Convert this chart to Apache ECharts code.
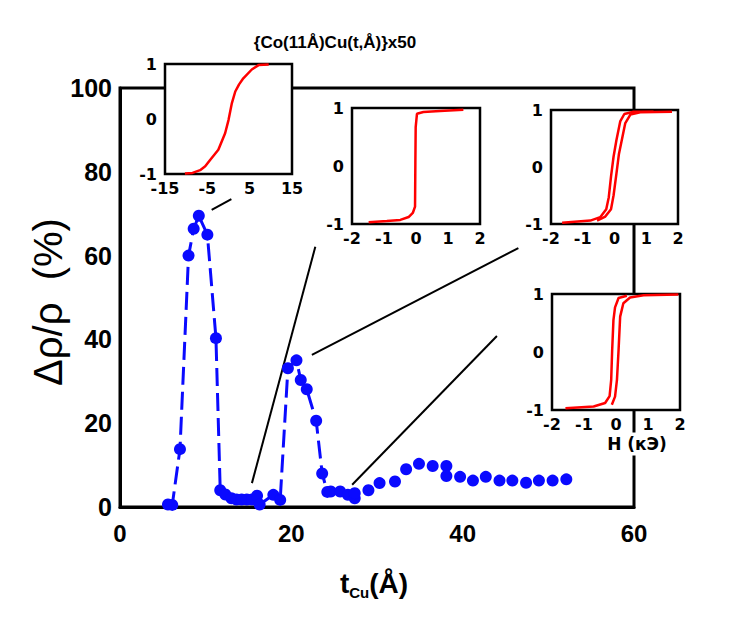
<!DOCTYPE html>
<html>
<head>
<meta charset="utf-8">
<script src="https://cdn.jsdelivr.net/npm/echarts@6.0.0/dist/echarts.min.js"></script>
<style>
  html, body { margin: 0; padding: 0; background: #fff; }
  #chart { width: 750px; height: 622px; }
</style>
</head>
<body>
<div id="chart"></div>
<script>
// main curve, dashed part (t in A, MR in %)
var tCu  = [5.6, 6.1, 7.0, 8.0, 8.6, 9.2, 10.2, 11.2, 11.7, 12.3, 13.0, 13.6, 14.2, 14.8, 15.4, 16.0, 16.3, 17.9, 18.7, 19.6, 20.6, 21.1, 21.8, 22.9, 23.6, 24.2];
var dRho = [0.6, 0.5, 13.8, 60.0, 66.4, 69.5, 65.0, 40.3, 4.0, 3.0, 2.1, 1.8, 1.8, 1.8, 1.8, 2.7, 0.6, 2.9, 1.7, 33.1, 35.0, 30.3, 28.1, 20.6, 8.0, 3.6];
// points after the second peak, no line
var tCuTail  = [24.6, 25.7, 26.6, 27.4, 27.4, 29.0, 30.3, 32.1, 33.4, 34.9, 36.5, 38.1, 38.1, 39.7, 41.2, 42.7, 44.3, 45.8, 47.4, 48.9, 50.5, 52.1];
var dRhoTail = [3.7, 3.7, 2.9, 2.1, 3.3, 4.0, 5.7, 6.1, 9.0, 10.3, 9.8, 9.8, 7.4, 7.2, 6.3, 7.2, 6.3, 6.3, 5.8, 6.3, 6.3, 6.6];

// pointer lines from insets to the curve [x1, y1, x2, y2]
var pointers = [
  [10.7, 70.9, 13.0, 73.5],
  [15.4, 5.7, 22.8, 62.1],
  [22.4, 36.3, 46.5, 61.8],
  [27.1, 5.3, 44.0, 40.8]
];

// inset 1: t = 5 A
var h1 = [-10.3, -8.5, -6.7, -5.5, -4.3, -2.4, -0.8, 0.0, 0.8, 1.6, 2.5, 3.5, 5.5, 7.1, 9.5];
var m1 = [-0.99, -0.98, -0.93, -0.86, -0.74, -0.56, -0.26, -0.02, 0.29, 0.50, 0.63, 0.74, 0.90, 0.98, 0.99];
// inset 2
var h2 = [-1.48, -0.91, -0.49, -0.23, -0.10, -0.03, -0.02, -0.01, 0.03, 0.23, 0.75, 1.48];
var m2 = [-0.97, -0.95, -0.93, -0.88, -0.81, -0.70, 0.05, 0.67, 0.90, 0.93, 0.95, 0.97];
// inset 3, two branches
var h3a = [-1.65, -0.76, -0.45, -0.26, -0.18, -0.11, -0.03, 0.06, 0.18, 0.31, 0.60, 1.23];
var m3a = [-0.98, -0.94, -0.88, -0.74, -0.53, -0.17, 0.18, 0.47, 0.80, 0.93, 0.97, 0.97];
var h3b = [-0.55, -0.29, -0.11, -0.03, 0.06, 0.14, 0.24, 0.34, 0.50, 0.81, 1.81];
var m3b = [-0.94, -0.87, -0.74, -0.50, -0.12, 0.23, 0.50, 0.77, 0.92, 0.96, 0.97];
// inset 4, two branches
var h4a = [-1.58, -0.70, -0.34, -0.20, -0.15, -0.12, -0.08, -0.03, 0.08, 0.34];
var m4a = [-0.97, -0.94, -0.88, -0.76, -0.48, 0.03, 0.55, 0.77, 0.93, 0.97];
var h4b = [-0.13, -0.03, 0.03, 0.08, 0.13, 0.23, 0.44, 0.86, 1.95];
var m4b = [-0.91, -0.77, -0.48, 0.03, 0.61, 0.84, 0.94, 0.98, 0.99];

function pairs(xs, ys) {
  return xs.map(function (x, i) { return [x, ys[i]]; });
}

var blue = '#0a0aff';
var red = '#ff0000';
var mainFont = 'Liberation Sans, Arial, sans-serif';
var insetFont = 'DejaVu Sans, Verdana, sans-serif';

var insetBoxes = [
  { left: 165, top: 64, width: 127, height: 110 },
  { left: 352, top: 108, width: 128, height: 116 },
  { left: 551, top: 110, width: 127, height: 114 },
  { left: 552, top: 294, width: 128, height: 116 }
];

var grids = [{ left: 120, top: 88, width: 514, height: 419, show: true, borderColor: '#000', borderWidth: 3, z: 0 }];
insetBoxes.forEach(function (b) {
  grids.push({ left: b.left, top: b.top, width: b.width, height: b.height, show: true,
    backgroundColor: '#fff', borderColor: '#000', borderWidth: 2.5, z: 10 });
});

var xAxes = [{
  gridIndex: 0, type: 'value', min: 0, max: 60, interval: 20,
  axisLine: { show: true, lineStyle: { color: '#000', width: 3 } },
  axisTick: { show: false }, splitLine: { show: false },
  axisLabel: { color: '#000', fontFamily: mainFont, fontWeight: 'bold', fontSize: 24, margin: 14 }
}];
var yAxes = [{
  gridIndex: 0, type: 'value', min: 0, max: 100, interval: 20,
  axisLine: { show: true, lineStyle: { color: '#000', width: 3 } },
  axisTick: { show: false }, splitLine: { show: false },
  axisLabel: { color: '#000', fontFamily: mainFont, fontWeight: 'bold', fontSize: 25, margin: 8 }
}];

function insetLabel(margin) {
  return { color: '#000', fontFamily: insetFont, fontWeight: 'bold', fontSize: 16, margin: margin };
}

for (var i = 1; i <= 4; i++) {
  var xa = {
    gridIndex: i, type: 'value', min: -2, max: 2, interval: 1, z: 11,
    axisLine: { show: false }, axisTick: { show: false }, splitLine: { show: false },
    axisLabel: insetLabel(6)
  };
  if (i === 1) {
    xa.min = -15; xa.max = 15; xa.interval = 5;
    xa.axisLabel.formatter = function (v) { return (v === -15 || v === -5 || v === 5 || v === 15) ? String(v) : ''; };
  }
  xAxes.push(xa);
  yAxes.push({
    gridIndex: i, type: 'value', min: -1, max: 1, interval: 1, z: 11,
    axisLine: { show: false }, axisTick: { show: false }, splitLine: { show: false },
    axisLabel: insetLabel(8)
  });
}

function insetLine(idx, xs, ys) {
  return {
    type: 'line', xAxisIndex: idx, yAxisIndex: idx, data: pairs(xs, ys),
    showSymbol: false, symbol: 'none', z: 12, animation: false,
    lineStyle: { color: red, width: 2.5 }
  };
}

var series = [
  {
    type: 'line', xAxisIndex: 0, yAxisIndex: 0, data: pairs(tCu, dRho),
    symbol: 'circle', symbolSize: 12, z: 3,
    itemStyle: { color: blue, opacity: 1 },
    lineStyle: { color: blue, width: 3, type: [18, 7] }
  },
  {
    type: 'scatter', xAxisIndex: 0, yAxisIndex: 0, data: pairs(tCuTail, dRhoTail),
    symbol: 'circle', symbolSize: 12, z: 3,
    itemStyle: { color: blue, opacity: 1 }
  },
  {
    type: 'lines', coordinateSystem: 'cartesian2d', xAxisIndex: 0, yAxisIndex: 0, z: 2,
    lineStyle: { color: '#000', width: 2, opacity: 1 },
    data: pointers.map(function (p) { return { coords: [[p[0], p[1]], [p[2], p[3]]] }; })
  },
  insetLine(1, h1, m1),
  insetLine(2, h2, m2),
  insetLine(3, h3a, m3a),
  insetLine(3, h3b, m3b),
  insetLine(4, h4a, m4a),
  insetLine(4, h4b, m4b)
];

var chart = echarts.init(document.getElementById('chart'), null, { renderer: 'svg' });
chart.setOption({
  animation: false,
  backgroundColor: '#fff',
  grid: grids,
  xAxis: xAxes,
  yAxis: yAxes,
  series: series,
  graphic: [
    {
      type: 'text', x: 335, y: 42, z: 20,
      style: { text: '{Co(11Å)Cu(t,Å)}x50', fill: '#000', font: 'bold 17px ' + mainFont, align: 'center', verticalAlign: 'middle' }
    },
    {
      type: 'text', x: 637, y: 444, z: 20,
      style: { text: 'H (кЭ)', fill: '#000', font: 'bold 17px ' + insetFont, align: 'center', verticalAlign: 'middle',
        backgroundColor: '#fff', padding: [3, 2] }
    },
    {
      type: 'text', x: 48, y: 302, z: 20, rotation: Math.PI / 2,
      style: { text: 'Δρ/ρ  (%)', fill: '#000', font: '40px ' + mainFont, align: 'center', verticalAlign: 'middle' }
    },
    {
      type: 'text', x: 374, y: 583, z: 20,
      style: {
        text: '{t|t}{s|Cu}{t|(Å)}', align: 'center', verticalAlign: 'middle',
        rich: {
          t: { fontFamily: mainFont, fontWeight: 'bold', fontSize: 28, fill: '#000', color: '#000', verticalAlign: 'bottom' },
          s: { fontFamily: mainFont, fontWeight: 'bold', fontSize: 15, fill: '#000', color: '#000', verticalAlign: 'bottom', padding: [0, 0, -3, 0] }
        }
      }
    }
  ]
});
</script>
</body>
</html>
